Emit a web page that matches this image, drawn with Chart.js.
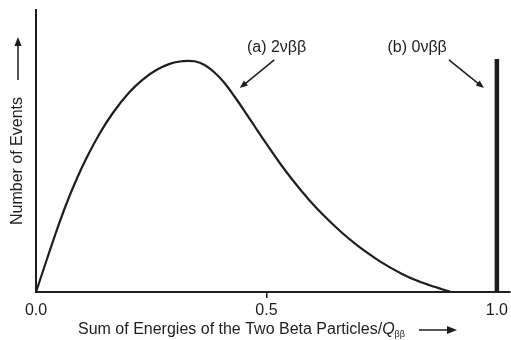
<!DOCTYPE html>
<html>
<head>
<meta charset="utf-8">
<script src="https://cdn.jsdelivr.net/npm/chart.js@4.4.1/dist/chart.umd.min.js"></script>
<style>
  html, body { margin: 0; padding: 0; background: #fff; }
  canvas { display: block; }
</style>
</head>
<body>
<canvas id="spectrum" width="511" height="340"></canvas>
<script>
// Two-neutrino double-beta spectrum: summed electron energy (fraction of Q) vs. relative event rate
const energies2nu = [0, 0.0238, 0.0455, 0.0671, 0.0887, 0.1104, 0.1385, 0.1667, 0.2035, 0.2316,
                     0.2619, 0.2900, 0.3117, 0.3290, 0.3442, 0.3658, 0.3874, 0.4091, 0.4307,
                     0.4524, 0.4740, 0.4957, 0.5281, 0.5563, 0.5931, 0.6299, 0.6645, 0.6970,
                     0.7381, 0.7662, 0.7944, 0.8247, 0.8528, 0.8810, 0.9004];
const events2nu   = [0, 0.117, 0.2216, 0.3174, 0.4025, 0.4780, 0.5631, 0.6348, 0.7099, 0.7532,
                     0.7879, 0.8089, 0.8174, 0.8199, 0.8181, 0.8050, 0.7784, 0.7411, 0.6933,
                     0.6418, 0.5887, 0.5355, 0.4592, 0.3979, 0.3255, 0.2621, 0.2092, 0.1656,
                     0.1177, 0.0890, 0.0642, 0.0415, 0.0248, 0.0099, 0];

// Neutrinoless line: all events at the endpoint
const energies0nu = [1.0, 1.0];
const events0nu   = [0, 0.826];

// Tick labels on the energy axis
const xTicks = [0, 0.5, 1.0];
const xTickLabels = ['0.0', '0.5', '1.0'];

const INK = '#1e1e1e';
const FONT = '"Liberation Sans", Arial, Helvetica, sans-serif';

function toPoints(xs, ys) {
  return xs.map((x, i) => ({ x: x, y: ys[i] }));
}

function arrow(ctx, x1, y1, x2, y2, head, width) {
  const a = Math.atan2(y2 - y1, x2 - x1);
  ctx.save();
  ctx.strokeStyle = INK;
  ctx.fillStyle = INK;
  ctx.lineWidth = width;
  ctx.beginPath();
  ctx.moveTo(x1, y1);
  ctx.lineTo(x2 - Math.cos(a) * head * 0.6, y2 - Math.sin(a) * head * 0.6);
  ctx.stroke();
  ctx.beginPath();
  ctx.moveTo(x2, y2);
  ctx.lineTo(x2 - head * Math.cos(a) + head * 0.4 * Math.sin(a), y2 - head * Math.sin(a) - head * 0.4 * Math.cos(a));
  ctx.lineTo(x2 - head * Math.cos(a) - head * 0.4 * Math.sin(a), y2 - head * Math.sin(a) + head * 0.4 * Math.cos(a));
  ctx.closePath();
  ctx.fill();
  ctx.restore();
}

// Labels, pointer arrows and axis titles
const decorations = {
  id: 'decorations',
  afterDraw(chart) {
    const { ctx, scales: { x, y } } = chart;
    ctx.save();
    ctx.fillStyle = INK;
    ctx.font = '16px ' + FONT;
    ctx.textAlign = 'center';
    ctx.textBaseline = 'middle';

    // series labels
    ctx.fillText('(a) 2νββ', x.getPixelForValue(0.522), y.getPixelForValue(0.865));
    ctx.fillText('(b) 0νββ', x.getPixelForValue(0.827), y.getPixelForValue(0.865));
    arrow(ctx, x.getPixelForValue(0.517), y.getPixelForValue(0.823),
               x.getPixelForValue(0.442), y.getPixelForValue(0.723), 8, 1.5);
    arrow(ctx, x.getPixelForValue(0.896), y.getPixelForValue(0.823),
               x.getPixelForValue(0.972), y.getPixelForValue(0.723), 8, 1.5);

    // y-axis title with arrow
    ctx.save();
    ctx.translate(18, 161);
    ctx.rotate(-Math.PI / 2);
    ctx.textAlign = 'center';
    ctx.fillText('Number of Events', 0, 0);
    ctx.restore();
    arrow(ctx, 18, 80, 18, 37, 9, 1.5);

    // x-axis title with italic Q and subscript
    const ty = 330;
    ctx.textAlign = 'left';
    const main = 'Sum of Energies of the Two Beta Particles/';
    let tx = 78;
    ctx.fillText(main, tx, ty);
    tx += ctx.measureText(main).width;
    ctx.font = 'italic 16px ' + FONT;
    ctx.fillText('Q', tx, ty);
    tx += ctx.measureText('Q').width;
    ctx.font = '9px ' + FONT;
    ctx.fillText('ββ', tx, ty + 5);
    arrow(ctx, 419, ty, 457, ty, 10, 1.5);
    ctx.restore();
  }
};

new Chart(document.getElementById('spectrum'), {
  type: 'line',
  data: {
    datasets: [
      {
        label: '2νββ',
        data: toPoints(energies2nu, events2nu),
        borderColor: INK,
        borderWidth: 2.2,
        pointRadius: 0,
        cubicInterpolationMode: 'monotone',
        fill: false
      },
      {
        label: '0νββ',
        data: toPoints(energies0nu, events0nu),
        borderColor: INK,
        borderWidth: 4.5,
        pointRadius: 0,
        borderCapStyle: 'butt',
        fill: false
      }
    ]
  },
  options: {
    responsive: false,
    animation: false,
    layout: { padding: { top: 10, right: 0, left: 0, bottom: 0 } },
    plugins: {
      legend: { display: false },
      tooltip: { enabled: false }
    },
    scales: {
      x: {
        type: 'linear',
        min: 0,
        max: 1.028,
        afterFit(scale) { scale.height = 48; },
        afterBuildTicks(scale) { scale.ticks = xTicks.map(v => ({ value: v })); },
        ticks: {
          color: INK,
          font: { family: FONT, size: 16 },
          padding: 3,
          maxRotation: 0,
          callback: (v) => xTickLabels[xTicks.indexOf(v)]
        },
        grid: {
          drawOnChartArea: false,
          drawTicks: true,
          tickLength: 6,
          lineWidth: 1.5,
          color: (c) => (c.tick && c.tick.value === 0.5 ? INK : 'rgba(0,0,0,0)')
        },
        border: { display: true, color: INK, width: 2 }
      },
      y: {
        min: 0,
        max: 1.0,
        afterFit(scale) { scale.width = 36; },
        ticks: { display: false },
        grid: { display: false, drawTicks: false },
        border: { display: true, color: INK, width: 2 }
      }
    }
  },
  plugins: [decorations]
});
</script>
</body>
</html>
